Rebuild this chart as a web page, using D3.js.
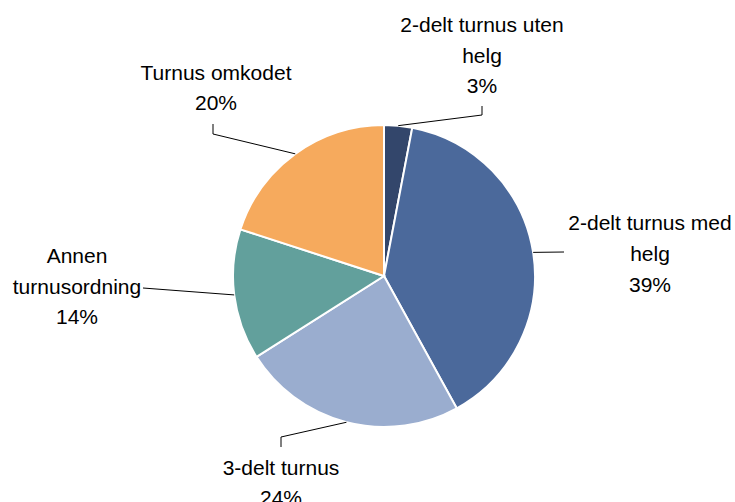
<!DOCTYPE html>
<html><head><meta charset="utf-8">
<script src="https://cdn.jsdelivr.net/npm/d3@7"></script>
<style>body{margin:0;background:#fff}svg{display:block}</style>
</head><body>
<svg id="c" width="735" height="502"></svg>
<script>
const categories = ["2-delt turnus uten helg","2-delt turnus med helg","3-delt turnus","Annen turnusordning","Turnus omkodet"];
const values = [3,39,24,14,20];
const labelLines = [["2-delt turnus uten","helg","3%"],["2-delt turnus med","helg","39%"],["3-delt turnus","24%"],["Annen","turnusordning","14%"],["Turnus omkodet","20%"]];
const colors = ["#33466b","#4b699b","#9aadcf","#62a09c","#f6aa5d"];

const svg = d3.select("#c");
const cx = 384, cy = 276, r = 151;
const g = svg.append("g").attr("transform",`translate(${cx},${cy})`);
const pie = d3.pie().sort(null).value(d=>d);
const arcs = pie(values);
const arc = d3.arc().innerRadius(0).outerRadius(r);
g.selectAll("path").data(arcs).enter().append("path")
  .attr("d",arc).attr("fill",(d,i)=>colors[i])
  .attr("stroke","#fff").attr("stroke-width",2);

// label layout: center x, first baseline y, line height, leader elbow points
const layout = [
  {x:482,y:32,lh:30.5,pts:[[482,115],[482,106]]},
  {x:650,y:230,lh:31,pts:[[564,252]]},
  {x:281,y:475,lh:30,pts:[[281,437],[281,447]]},
  {x:77,y:263,lh:30.5,pts:[[143,288]]},
  {x:216,y:80,lh:30,pts:[[213,134],[213,124]]}
];
arcs.forEach((a,i)=>{
  const mid=(a.startAngle+a.endAngle)/2;
  const sx=cx+r*Math.sin(mid), sy=cy-r*Math.cos(mid);
  const L=layout[i];
  const pts=[[sx,sy],...L.pts];
  svg.append("path").attr("d",d3.line()(pts)).attr("fill","none")
    .attr("stroke","#000").attr("stroke-width",1);
  const t=svg.append("text").attr("text-anchor","middle")
    .attr("font-family","Liberation Sans, Arial, sans-serif").attr("font-size",21).attr("fill","#000");
  labelLines[i].forEach((s,j)=>{
    t.append("tspan").attr("x",L.x).attr("y",L.y+j*L.lh).text(s);
  });
});
</script>
</body></html>
